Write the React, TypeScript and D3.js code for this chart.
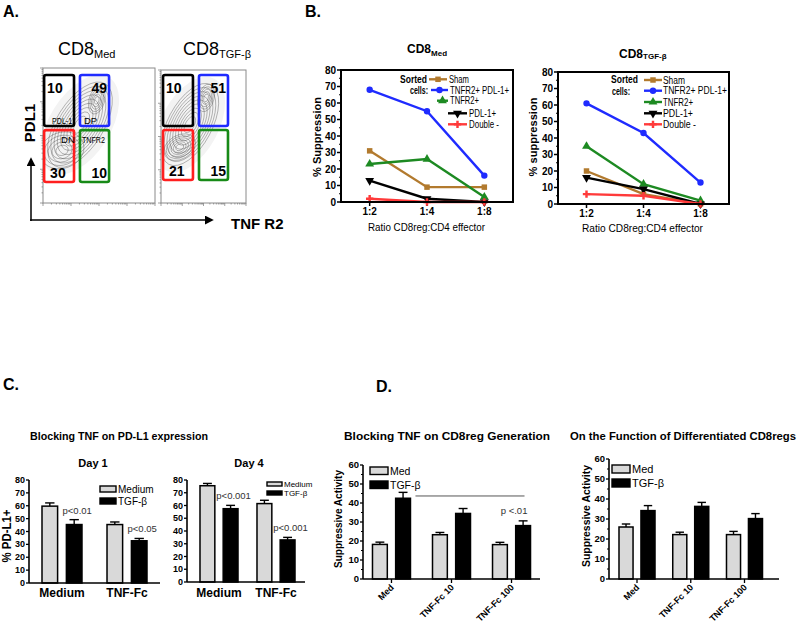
import React from 'react';
import * as d3 from 'd3';

const F = '"Liberation Sans", Arial, Helvetica, sans-serif';

// ---------------- Panel A data ----------------
const gateNames = ['PDL-1', 'DP', 'DN', 'TNFR2'];
const gatePctMed = [10, 49, 30, 10];
const gatePctTgf = [10, 51, 21, 15];
// gates in plot-fraction coordinates: [x0, x1, yLow, yHigh]
const gatesMed = [
  [0.01, 0.277, 0.57, 0.948],
  [0.33, 0.59, 0.57, 0.948],
  [0.01, 0.277, 0.156, 0.54],
  [0.33, 0.59, 0.156, 0.54],
];
const gatesTgf = [
  [0.024, 0.376, 0.579, 0.962],
  [0.447, 0.788, 0.579, 0.962],
  [0.024, 0.376, 0.173, 0.549],
  [0.447, 0.788, 0.173, 0.549],
];
// contour populations: [cx, cy, rx, ry (fraction of plot width), angle, rings]
const popsMed = [
  [0.33, 0.58, 0.43, 0.21, -58, 9],
  [0.48, 0.76, 0.125, 0.07, -75, 5],
  [0.17, 0.39, 0.2, 0.16, -20, 5],
];
const popsTgf = [
  [0.34, 0.59, 0.53, 0.26, -62, 9],
  [0.53, 0.79, 0.165, 0.094, -75, 5],
  [0.22, 0.42, 0.2, 0.14, -30, 6],
];

// ---------------- Panel B data ----------------
const ratios = ['1:2', '1:4', '1:8'];
const sortedNames = ['Sham', 'TNFR2+ PDL-1+', 'TNFR2+', 'PDL-1+', 'Double -'];
const medSham = [31, 9, 9];
const medDP = [68, 55, 16];
const medTNFR2 = [23, 26, 3];
const medPDL1 = [13, 2, 0];
const medDN = [2, 0, 0];
const tgfSham = [20, 6, 0];
const tgfDP = [61, 43, 13];
const tgfTNFR2 = [35, 12, 2];
const tgfPDL1 = [16, 9, 0];
const tgfDN = [6, 5, 0];
const seriesColors = ['#b27a2e', '#1f2bff', '#1d8a22', '#000000', '#ff3a3a'];
const seriesMarkers = ['square', 'circle', 'triangle', 'triangleDown', 'plus'];

// ---------------- Panel C data ----------------
const cGroups = ['Medium', 'TNF-Fc'];
const day1Medium = [59.7, 45.4];
const day1MediumErr = [2.5, 2];
const day1Tgf = [45.4, 32.8];
const day1TgfErr = [3.8, 1.8];
const day1P = ['p<0.01', 'p<0.05'];
const day4Medium = [75.5, 61.5];
const day4MediumErr = [1.8, 2.6];
const day4Tgf = [57.5, 33];
const day4TgfErr = [2.6, 2];
const day4P = ['p<0.001', 'p<0.001'];

// ---------------- Panel D data ----------------
const dGroups = ['Med', 'TNF-Fc 10', 'TNF-Fc 100'];
const genMed = [18.2, 23.3, 18.1];
const genMedErr = [1.2, 1.2, 1.2];
const genTgf = [42.5, 34.5, 28.1];
const genTgfErr = [3.1, 2.6, 2.5];
const genSigLine = 43.7;
const genP = 'p <.01';
const funcMed = [26, 22.2, 22.2];
const funcMedErr = [1.5, 1.2, 1.6];
const funcTgf = [34.2, 36.3, 30.2];
const funcTgfErr = [2.5, 2, 2.5];

// ---------------- helpers ----------------
type TP = {
  x: number; y: number; size?: number; bold?: boolean; anchor?: string; w?: number;
  rot?: number; fill?: string; children: React.ReactNode;
};
function T({ x, y, size = 10, bold = false, anchor = 'start', w, rot, fill = '#000', children }: TP) {
  const extra: any = w ? { textLength: w, lengthAdjust: 'spacingAndGlyphs' } : {};
  return (
    <text
      transform={`translate(${x},${y})${rot ? ` rotate(${rot})` : ''}`}
      fontSize={size}
      fontWeight={bold ? 'bold' : 'normal'}
      textAnchor={anchor as any}
      fill={fill}
      {...extra}
    >
      {children}
    </text>
  );
}

function Marker({ type, x, y, color }: { type: string; x: number; y: number; color: string }) {
  let p = '';
  let rot = '';
  if (type === 'square') p = d3.symbol(d3.symbolSquare, 30)() || '';
  else if (type === 'circle') p = d3.symbol(d3.symbolCircle, 32)() || '';
  else if (type === 'triangle') p = d3.symbol(d3.symbolTriangle, 34)() || '';
  else if (type === 'triangleDown') { p = d3.symbol(d3.symbolTriangle, 34)() || ''; rot = ' rotate(180)'; }
  else p = d3.symbol(d3.symbolCross, 30)() || '';
  return <path d={p} transform={`translate(${x},${y})${rot}`} fill={color} />;
}

// ---------------- Panel A ----------------
function FlowPlot({ x0, x1, y0, y1, gates, pcts, pops, showNames, clipId }: any) {
  const xs = d3.scaleLinear().domain([0, 1]).range([x0, x1]);
  const ys = d3.scaleLinear().domain([0, 1]).range([y1, y0]);
  const W = x1 - x0;
  const logX = d3.scaleLog().domain([10, 100000]).range([x0, x1]);
  const logY = d3.scaleLog().domain([10, 100000]).range([y1, y0]);
  const tx = logX.ticks();
  const ty = logY.ticks();
  const gateColors = ['#000', '#1f2bff', '#ff1f1f', '#178a17'];
  return (
    <g>
      <defs>
        <clipPath id={clipId}>
          <rect x={x0} y={y0} width={x1 - x0} height={y1 - y0} />
        </clipPath>
      </defs>
      <g clipPath={`url(#${clipId})`}>
        {pops.map((p: number[], i: number) => (
          <g key={'f' + i} transform={`translate(${xs(p[0])},${ys(p[1])}) rotate(${p[4]})`}>
            {i === 0 && <ellipse rx={p[2] * W * 1.15} ry={p[3] * W * 1.3} fill="#f3f3f3" />}
          </g>
        ))}
        {pops.map((p: number[], i: number) => (
          <g key={'p' + i} transform={`translate(${xs(p[0])},${ys(p[1])}) rotate(${p[4]})`}>
            {d3.range(p[5]).map((k) => {
              const f = 1 - (k / p[5]) * 0.9;
              return (
                <ellipse key={k} rx={p[2] * W * f} ry={p[3] * W * f} fill="none"
                  stroke="#3a3a3a" strokeWidth={0.6} strokeOpacity={0.55} />
              );
            })}
          </g>
        ))}
      </g>
      <rect x={x0} y={y0} width={x1 - x0} height={y1 - y0} fill="none" stroke="#8a8a8a" strokeWidth={1} />
      {tx.map((t, i) => (
        <line key={'tx' + i} x1={logX(t)} x2={logX(t)} y1={y1} y2={y1 + (Math.log10(t) % 1 === 0 ? 3 : 1.5)} stroke="#777" strokeWidth={0.7} />
      ))}
      {ty.map((t, i) => (
        <line key={'ty' + i} y1={logY(t)} y2={logY(t)} x1={x0} x2={x0 - (Math.log10(t) % 1 === 0 ? 3 : 1.5)} stroke="#777" strokeWidth={0.7} />
      ))}
      {gates.map((g: number[], i: number) => (
        <rect key={'g' + i} x={xs(g[0])} y={ys(g[3])} width={xs(g[1]) - xs(g[0])} height={ys(g[2]) - ys(g[3])}
          rx={2} fill="none" stroke={gateColors[i]} strokeWidth={2.6} />
      ))}
      {gates.map((g: number[], i: number) => {
        const top = i < 2;
        const leftAligned = i === 0 || i === 2;
        const x = leftAligned ? xs(g[0]) + (top ? 3 : 6) : xs(g[1]) - 2;
        const y = top ? ys(g[3]) + 18 : ys(g[2]) - 4;
        return (
          <T key={'n' + i} x={x} y={y} size={14} bold anchor={leftAligned ? 'start' : 'end'}>
            {pcts[i]}
          </T>
        );
      })}
      {showNames && (
        <g>
          <T x={xs(gates[0][0]) + 8} y={ys(gates[0][2]) - 2} size={9.5} w={20}>{gateNames[0]}</T>
          <T x={xs(gates[1][0]) + 4} y={ys(gates[1][2]) - 2} size={9.5}>{gateNames[1]}</T>
          <T x={xs(gates[2][0]) + 17} y={ys(gates[2][3]) + 13} size={9.5}>{gateNames[2]}</T>
          <T x={xs(gates[3][0]) + 2} y={ys(gates[3][3]) + 13} size={9.5} w={23}>{gateNames[3]}</T>
        </g>
      )}
    </g>
  );
}

function PanelA() {
  return (
    <g>
      <T x={3} y={17} size={16} bold>A.</T>
      <text x={58} y={55} fontSize={18}>CD8<tspan fontSize={11} dy={3}>Med</tspan></text>
      <text x={183} y={55} fontSize={18}>CD8<tspan fontSize={11} dy={3}>TGF-β</tspan></text>
      <FlowPlot x0={43} x1={155} y0={68} y1={203} gates={gatesMed} pcts={gatePctMed} pops={popsMed} showNames clipId="clipMed" />
      <FlowPlot x0={161} x1={246} y0={70} y1={203} gates={gatesTgf} pcts={gatePctTgf} pops={popsTgf} showNames={false} clipId="clipTgf" />
      <defs>
        <marker id="arrowA" viewBox="0 0 10 10" refX={8} refY={5} markerWidth={6} markerHeight={6} orient="auto">
          <path d="M0,0 L10,5 L0,10 z" fill="#000" />
        </marker>
      </defs>
      <line x1={30} y1={220} x2={212} y2={220} stroke="#000" strokeWidth={1.5} markerEnd="url(#arrowA)" />
      <line x1={31} y1={221} x2={31} y2={159} stroke="#000" strokeWidth={1.5} markerEnd="url(#arrowA)" />
      <T x={35} y={123} size={15} bold anchor="middle" rot={-90}>PDL1</T>
      <T x={231} y={229} size={15} bold>TNF R2</T>
    </g>
  );
}

// ---------------- Panel B ----------------
function LineChart({ left, right, top, bottom, series, rows, lineX, textX, textW, sortedPos }: any) {
  const x = d3.scalePoint<string>().domain(ratios).range([left, right]).padding(0.5);
  const y = d3.scaleLinear().domain([0, 80]).range([bottom, top]);
  const majors = d3.range(0, 81, 10);
  const minors = d3.range(5, 80, 10);
  const line = d3.line<number>().x((_, i) => x(ratios[i]) as number).y((d) => y(d));
  return (
    <g>
      {majors.map((t) => (
        <g key={'m' + t}>
          <line x1={left - 4} x2={left} y1={y(t)} y2={y(t)} stroke="#000" strokeWidth={1.5} />
          <T x={left - 5} y={y(t) + 3.5} size={10} bold anchor="end">{t}</T>
        </g>
      ))}
      {minors.map((t) => (
        <line key={'n' + t} x1={left - 2} x2={left} y1={y(t)} y2={y(t)} stroke="#000" strokeWidth={1} />
      ))}
      {ratios.map((r) => (
        <g key={r}>
          <line x1={x(r)} x2={x(r)} y1={bottom} y2={bottom + 4} stroke="#000" strokeWidth={1.5} />
          <T x={x(r) as number} y={bottom + 13} size={10} bold anchor="middle">{r}</T>
        </g>
      ))}
      {series.map((s: number[], i: number) => (
        <g key={'s' + i}>
          <path d={line(s) || ''} fill="none" stroke={seriesColors[i]} strokeWidth={2.4} />
          {s.map((v, j) => (
            <Marker key={j} type={seriesMarkers[i]} x={x(ratios[j]) as number} y={y(v)} color={seriesColors[i]} />
          ))}
        </g>
      ))}
      <rect x={left} y={top} width={right - left} height={bottom - top} fill="none" stroke="#000" strokeWidth={2} />
      <T x={sortedPos[0]} y={sortedPos[1]} size={10} bold w={27}>Sorted</T>
      <T x={sortedPos[2]} y={sortedPos[3]} size={10} bold w={18}>cells:</T>
      {sortedNames.map((n, i) => (
        <g key={'l' + i}>
          <line x1={lineX[i][0]} x2={lineX[i][1]} y1={rows[i]} y2={rows[i]} stroke={seriesColors[i]} strokeWidth={2.4} />
          <Marker type={seriesMarkers[i]} x={(lineX[i][0] + lineX[i][1]) / 2} y={rows[i]} color={seriesColors[i]} />
          <T x={textX[i]} y={rows[i] + 3.5} size={10} w={textW[i]}>{n}</T>
        </g>
      ))}
    </g>
  );
}

function PanelB() {
  return (
    <g>
      <T x={305} y={17} size={16} bold>B.</T>
      <text x={407} y={53} fontSize={12} fontWeight="bold">CD8<tspan fontSize={8} dy={3}>Med</tspan></text>
      <text x={619} y={58} fontSize={12} fontWeight="bold">CD8<tspan fontSize={8} dy={1}>TGF-β</tspan></text>
      <LineChart left={341} right={513} top={70} bottom={202}
        series={[medSham, medDP, medTNFR2, medPDL1, medDN]}
        rows={[79.3, 90, 100.7, 113.3, 124.3]}
        lineX={[[429, 447], [431, 448], [437, 448], [448, 467], [448, 467]]}
        textX={[449, 450, 450, 469, 469]}
        textW={[20, 59, 29, 27, 30]}
        sortedPos={[400, 83, 410, 94]} />
      <LineChart left={558} right={729} top={72} bottom={204}
        series={[tgfSham, tgfDP, tgfTNFR2, tgfPDL1, tgfDN]}
        rows={[80, 90.7, 102, 113.3, 124.3]}
        lineX={[[644, 662], [644, 662], [644, 662], [644, 662], [644, 662]]}
        textX={[663, 663, 663, 663, 663]}
        textW={[22, 64, 30, 30, 33]}
        sortedPos={[611, 83, 612, 95]} />
      <T x={321} y={137} size={11} bold anchor="middle" rot={-90} w={80}>% Suppression</T>
      <T x={537} y={137} size={11} bold anchor="middle" rot={-90} w={79}>% suppression</T>
      <T x={368} y={231} size={11} w={117}>Ratio CD8reg:CD4 effector</T>
      <T x={582} y={232} size={11} w={121}>Ratio  CD8reg:CD4 effector</T>
    </g>
  );
}

// ---------------- Bar charts ----------------
function makeScales(groups: string[], range: number[], pIn: number, pOut: number, top: number, bottom: number, yMax: number) {
  const x = d3.scaleBand<string>().domain(groups).range(range as [number, number]).paddingInner(pIn).paddingOuter(pOut);
  const sub = d3.scaleBand<string>().domain(['a', 'b']).range([0, x.bandwidth()]).paddingInner(0.36);
  const y = d3.scaleLinear().domain([0, yMax]).range([bottom, top]);
  return { x, sub, y };
}

function Bars({ sc, groups, a, aErr, b, bErr, yMax, minor, axisEnd, tickSize, xTicks }: any) {
  const { x, sub, y } = sc;
  const left = x.range()[0];
  const bottom = y(0);
  const ticks = d3.range(0, yMax + 0.1, 10);
  const minors = minor ? d3.range(5, yMax, 10) : [];
  return (
    <g>
      {groups.map((g: string, i: number) =>
        [
          { k: 'a', v: a[i], e: aErr[i], fill: '#d9d9d9' },
          { k: 'b', v: b[i], e: bErr[i], fill: '#000' },
        ].map((bar) => {
          const bx = x(g) + sub(bar.k);
          const bw = sub.bandwidth();
          const cx = bx + bw / 2;
          return (
            <g key={g + bar.k}>
              <line x1={cx} x2={cx} y1={y(bar.v)} y2={y(bar.v + bar.e)} stroke="#000" strokeWidth={1.4} />
              <line x1={cx - bw * 0.3} x2={cx + bw * 0.3} y1={y(bar.v + bar.e)} y2={y(bar.v + bar.e)} stroke="#000" strokeWidth={1.4} />
              <rect x={bx} y={y(bar.v)} width={bw} height={bottom - y(bar.v)} fill={bar.fill} stroke="#000" strokeWidth={1.5} />
            </g>
          );
        })
      )}
      <line x1={left} x2={left} y1={y(yMax)} y2={bottom} stroke="#000" strokeWidth={1.6} />
      <line x1={left} x2={axisEnd} y1={bottom} y2={bottom} stroke="#000" strokeWidth={1.6} />
      {ticks.map((t: number) => (
        <g key={'t' + t}>
          <line x1={left - 3} x2={left} y1={y(t)} y2={y(t)} stroke="#000" strokeWidth={1.3} />
          <T x={left - 4} y={y(t) + 3} size={tickSize} bold anchor="end">{t}</T>
        </g>
      ))}
      {minors.map((t: number) => (
        <line key={'mn' + t} x1={left - 2} x2={left} y1={y(t)} y2={y(t)} stroke="#000" strokeWidth={1} />
      ))}
      {xTicks && groups.map((g: string) => (
        <line key={'xt' + g} x1={x(g) + x.bandwidth() / 2} x2={x(g) + x.bandwidth() / 2} y1={bottom} y2={bottom + 4} stroke="#000" strokeWidth={1.3} />
      ))}
    </g>
  );
}

function Legend({ x, y1, y2, w, h, labels, size }: any) {
  return (
    <g>
      <rect x={x} y={y1} width={w} height={h} fill="#d9d9d9" stroke="#000" strokeWidth={1.4} />
      <rect x={x} y={y2} width={w} height={h} fill="#000" stroke="#000" strokeWidth={1.4} />
      <T x={x + w + 2} y={y1 + h / 2 + size * 0.36} size={size}>{labels[0]}</T>
      <T x={x + w + 2} y={y2 + h / 2 + size * 0.36} size={size}>{labels[1]}</T>
    </g>
  );
}

function PanelC() {
  const s1 = makeScales(cGroups, [29, 160], 0.385, 0.2, 480, 583, 80);
  const s4 = makeScales(cGroups, [187, 308], 0.333, 0.228, 480, 582, 80);
  const pLabel = (sc: any, vals: number[], errs: number[], labels: string[]) =>
    cGroups.map((g, i) => {
      const cx = sc.x(g) + sc.sub('b') + sc.sub.bandwidth() / 2;
      return (
        <T key={'p' + g} x={cx + 3} y={sc.y(vals[i] + errs[i]) - 6} size={9.5} anchor="middle" fill="#333">
          {labels[i]}
        </T>
      );
    });
  return (
    <g>
      <T x={3} y={390} size={16} bold>C.</T>
      <T x={30} y={440} size={11.5} bold w={178}>Blocking TNF on PD-L1 expression</T>
      <T x={93} y={467} size={11} bold anchor="middle">Day 1</T>
      <T x={249} y={467} size={11} bold anchor="middle">Day 4</T>
      <Bars sc={s1} groups={cGroups} a={day1Medium} aErr={day1MediumErr} b={day1Tgf} bErr={day1TgfErr}
        yMax={80} axisEnd={160} tickSize={9} />
      <Bars sc={s4} groups={cGroups} a={day4Medium} aErr={day4MediumErr} b={day4Tgf} bErr={day4TgfErr}
        yMax={80} axisEnd={305} tickSize={9} />
      {pLabel(s1, day1Tgf, day1TgfErr, day1P)}
      {pLabel(s4, day4Tgf, day4TgfErr, day4P)}
      {cGroups.map((g) => (
        <T key={'x1' + g} x={s1.x(g)! + s1.x.bandwidth() / 2} y={597} size={12} bold anchor="middle">{g}</T>
      ))}
      {cGroups.map((g) => (
        <T key={'x4' + g} x={s4.x(g)! + s4.x.bandwidth() / 2} y={597} size={12} bold anchor="middle">{g}</T>
      ))}
      <Legend x={100} y1={486} y2={498} w={16} h={6} labels={['Medium', 'TGF-β']} size={10} />
      <Legend x={267} y1={482} y2={491} w={15} h={4} labels={['Medium', 'TGF-β']} size={8} />
      <T x={11} y={536} size={12} bold anchor="middle" rot={-90} w={53}>% PD-L1+</T>
    </g>
  );
}

function PanelD() {
  const sL = makeScales(dGroups, [363, 540], 0.367, 0.158, 465, 579, 60);
  const sR = makeScales(dGroups, [609, 772.5], 0.33, 0.186, 459, 579, 60);
  const xLabels = (sc: any, key: string) =>
    dGroups.map((g) => (
      <T key={key + g} x={sc.x(g) + sc.x.bandwidth() / 2 + 3} y={sc.y(0) + 9} size={9} bold anchor="end" rot={-45}>{g}</T>
    ));
  const blackCx = (sc: any, g: string) => sc.x(g) + sc.sub('b') + sc.sub.bandwidth() / 2;
  return (
    <g>
      <T x={376} y={392} size={16} bold>D.</T>
      <T x={344} y={440} size={11.5} bold w={206}>Blocking TNF on CD8reg Generation</T>
      <T x={570} y={440} size={10.5} bold w={226}>On the Function of Differentiated CD8regs</T>
      <Bars sc={sL} groups={dGroups} a={genMed} aErr={genMedErr} b={genTgf} bErr={genTgfErr}
        yMax={60} minor axisEnd={540} tickSize={9.5} xTicks />
      <Bars sc={sR} groups={dGroups} a={funcMed} aErr={funcMedErr} b={funcTgf} bErr={funcTgfErr}
        yMax={60} minor axisEnd={779} tickSize={9.5} xTicks />
      <line x1={sL.x(dGroups[0])! + sL.x.bandwidth() + 5} x2={sL.x(dGroups[2])! + sL.x.bandwidth() - 6}
        y1={sL.y(genSigLine)} y2={sL.y(genSigLine)} stroke="#555" strokeWidth={1} />
      <T x={blackCx(sL, dGroups[2]) - 9} y={sL.y(genTgf[2] + genTgfErr[2]) - 7} size={9.5} anchor="middle" fill="#333">{genP}</T>
      {xLabels(sL, 'dl')}
      {xLabels(sR, 'dr')}
      <Legend x={370} y1={467} y2={481} w={18} h={7.5} labels={['Med', 'TGF-β']} size={10.5} />
      <Legend x={612} y1={465} y2={479} w={18} h={8} labels={['Med', 'TGF-β']} size={11} />
      <T x={342} y={519} size={11.5} bold anchor="middle" rot={-90} w={98}>Suppressive Activity</T>
      <T x={590} y={516} size={11.5} bold anchor="middle" rot={-90} w={102}>Suppressive Activity</T>
    </g>
  );
}

export default function App() {
  return (
    <svg width={800} height={625} viewBox="0 0 800 625"
      style={{ position: 'absolute', left: 0, top: 0, display: 'block', background: '#fff' }}
      fontFamily={F}>
      <rect x={0} y={0} width={800} height={625} fill="#fff" />
      <PanelA />
      <PanelB />
      <PanelC />
      <PanelD />
    </svg>
  );
}
